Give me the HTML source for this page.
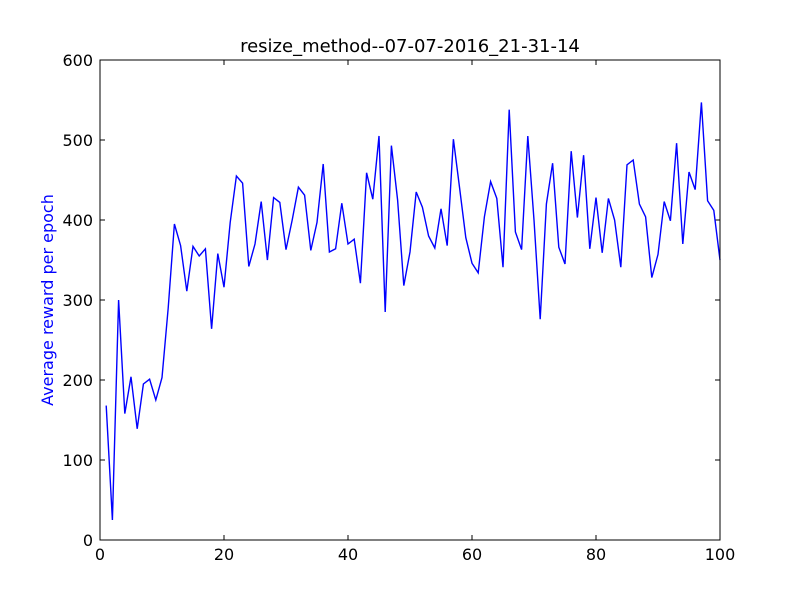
<!DOCTYPE html>
<html><head><meta charset="utf-8"><style>
html,body{margin:0;padding:0;background:#fff;}
svg{display:block;font-family:"DejaVu Sans","Liberation Sans",sans-serif;}
</style></head><body>
<svg id="chart" width="800" height="600">
<rect width="800" height="600" fill="#fff"/>
<text x="410" y="52" text-anchor="middle" font-size="18">resize_method--07-07-2016_21-31-14</text>
<text transform="translate(53,300) rotate(-90)" text-anchor="middle" font-size="16" fill="#0000ff">Average reward per epoch</text>
<g id="ticks"></g>
<polyline id="line" fill="none" stroke="#0000ff" stroke-width="1.4"/>
<rect x="100" y="60" width="620" height="480" fill="none" stroke="#000" stroke-width="1"/>
</svg>
<script>
const epochs = Array.from({length:100},(_,i)=>i+1);
const rewards = [168,25,300,158,204,139,195,201,175,203,290,395,368,311,367,355,364,264,358,316,397,455,446,342,370,423,350,428,422,363,400,441,431,362,397,470,360,364,421,370,376,321,459,426,505,285,493,425,318,360,435,416,380,365,414,368,501,440,378,346,334,404,448,427,341,538,385,363,505,400,276,420,471,366,345,486,403,481,364,428,359,427,400,341,469,475,420,404,328,357,423,399,496,370,460,438,547,424,412,350];
const xTicks = [0,20,40,60,80,100];
const yTicks = [0,100,200,300,400,500,600];
const xs = v => 100 + v/100*620;
const ys = v => 540 - v/600*480;
const ns = "http://www.w3.org/2000/svg";
const g = document.getElementById('ticks');
function mk(tag, attrs){const e=document.createElementNS(ns,tag);for(const k in attrs)e.setAttribute(k,attrs[k]);return e;}
xTicks.forEach(t=>{
  const x = xs(t);
  g.appendChild(mk('line',{x1:x,x2:x,y1:540,y2:535,stroke:'#000'}));
  g.appendChild(mk('line',{x1:x,x2:x,y1:60,y2:65,stroke:'#000'}));
  const tx = mk('text',{x:x,y:560,'text-anchor':'middle','font-size':'16'});
  tx.textContent = t;
  
  
  g.appendChild(tx);
});
yTicks.forEach(t=>{
  const y = ys(t);
  g.appendChild(mk('line',{x1:100,x2:105,y1:y,y2:y,stroke:'#000'}));
  g.appendChild(mk('line',{x1:720,x2:715,y1:y,y2:y,stroke:'#000'}));
  const tx = mk('text',{x:93,y:y+6,'text-anchor':'end','font-size':'16'});
  tx.textContent = t;
  
  
  g.appendChild(tx);
});
document.getElementById('line').setAttribute('points', epochs.map((e,i)=>xs(e)+','+ys(rewards[i])).join(' '));
</script>
</body></html>
